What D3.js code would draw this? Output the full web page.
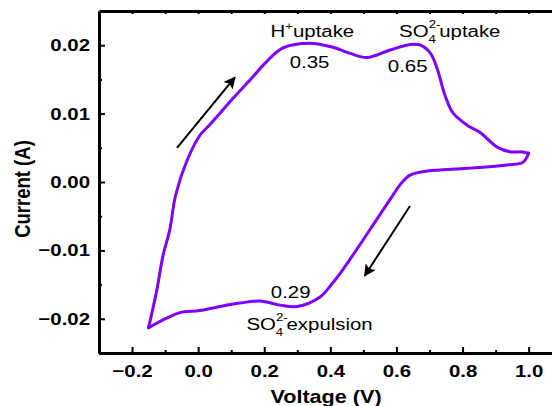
<!DOCTYPE html>
<html>
<head>
<meta charset="utf-8">
<script src="https://cdn.jsdelivr.net/npm/d3@7"></script>
<style>
  body { margin: 0; background: #fff; }
</style>
</head>
<body>
<script>
// values
// anodic sweep (-0.15 V -> 1.0 V)
const fwdV = [-0.15, -0.125, -0.107, -0.086, -0.068, -0.034, 0.005, 0.03, 0.056, 0.105, 0.157, 0.205, 0.257,
  0.338, 0.408, 0.46, 0.511, 0.581, 0.642, 0.673, 0.703, 0.723, 0.742, 0.752, 0.771, 0.814, 0.854,
  0.905, 0.945, 0.981, 1.0];
const fwdI = [-0.0213, -0.0158, -0.0109, -0.0070, -0.0019, 0.0031, 0.0068, 0.0081, 0.0095, 0.0122, 0.0149, 0.0175, 0.0196,
  0.0203, 0.0197, 0.0188, 0.0182, 0.0193, 0.0201, 0.0200, 0.0188, 0.0166, 0.0134, 0.0120, 0.0101, 0.0083, 0.0072,
  0.0051, 0.0044, 0.0044, 0.0042];
// cathodic sweep (1.0 V -> -0.15 V)
const revV = [1.0, 0.983, 0.935, 0.814, 0.693, 0.641, 0.611, 0.587, 0.551, 0.511, 0.475, 0.438, 0.408,
  0.369, 0.299, 0.248, 0.187, 0.126, 0.066, 0.005, -0.055, -0.095, -0.15];
const revI = [0.0042, 0.0029, 0.0025, 0.0020, 0.0016, 0.0010, -0.0004, -0.0021, -0.0047, -0.0076, -0.0102, -0.0128, -0.0147,
  -0.0168, -0.0182, -0.0180, -0.0174, -0.0177, -0.0182, -0.0188, -0.0191, -0.0199, -0.0213];

const xTicks = [-0.2, 0.0, 0.2, 0.4, 0.6, 0.8, 1.0];
const xMinor = [-0.1, 0.1, 0.3, 0.5, 0.7, 0.9];
const yTicks = [-0.02, -0.01, 0.0, 0.01, 0.02];
const yMinor = [-0.015, -0.005, 0.005, 0.015];

// sweep direction arrows [V0, I0, V1, I1]
const arrows = [[-0.064, 0.0050, 0.111, 0.0153], [0.641, -0.0035, 0.504, -0.0137]];

// annotations: [V, I, kind, text]
const notes = [
  [0.219, 0.02124, "H", "uptake"],
  [0.608, 0.0212, "SO4", "uptake"],
  [0.146, -0.02164, "SO4", "expulsion"],
  [0.277, 0.01667, "plain", "0.35"],
  [0.574, 0.01608, "plain", "0.65"],
  [0.22, -0.01696, "plain", "0.29"]
];

const canvWidth = 552, canvHeight = 406;
const sx = 1.2; // the picture's text is stretched sideways

const svg = d3.select("body").append("svg")
    .attr("width", canvWidth)
    .attr("height", canvHeight);

const plotLeft = 99, plotTop = 11, plotBottom = 353;
const xScale = d3.scaleLinear().domain([-0.3, 1.1]).range([plotLeft, plotLeft + 1.4 * 330.5]);
const yScale = d3.scaleLinear().domain([-0.025, 0.025]).range([plotBottom, plotTop]);
const plotRight = xScale(1.1);

const font = "'Liberation Sans', Arial, sans-serif";

// curve
const line = d3.line()
    .x(d => xScale(d[0]))
    .y(d => yScale(d[1]))
    .curve(d3.curveCatmullRom.alpha(0.5));

[[fwdV, fwdI], [revV, revI]].forEach(([vs, is]) => {
  svg.append("path")
      .datum(vs.map((v, i) => [v, is[i]]))
      .attr("d", line)
      .attr("fill", "none")
      .attr("stroke", "#7f00ff")
      .attr("stroke-width", 3)
      .attr("stroke-linejoin", "round")
      .attr("stroke-linecap", "round");
});

// axes
function styleAxis(g) {
  g.select(".domain").attr("stroke-width", 3).attr("stroke", "#000");
  g.selectAll(".tick line").attr("stroke-width", 2).attr("stroke", "#000");
}

const xAxis = svg.append("g")
    .attr("transform", "translate(0," + plotBottom + ")")
    .call(d3.axisBottom(xScale).tickValues(xTicks).tickFormat(d3.format(".1f"))
      .tickSizeInner(-6).tickSizeOuter(0).tickPadding(12));
xAxis.call(styleAxis);
xAxis.selectAll("text")
    .attr("font-family", font).attr("font-size", 17).attr("font-weight", "bold")
    .attr("transform", "scale(" + sx + ",1)");

svg.append("g")
    .attr("transform", "translate(0," + plotBottom + ")")
    .call(d3.axisBottom(xScale).tickValues(xMinor).tickFormat("").tickSizeInner(-3).tickSizeOuter(0))
    .call(styleAxis);

svg.append("g")
    .attr("transform", "translate(0," + plotTop + ")")
    .call(d3.axisTop(xScale).tickValues(xTicks.concat(xMinor)).tickFormat("").tickSizeInner(-3).tickSizeOuter(0))
    .call(styleAxis);

const yAxis = svg.append("g")
    .attr("transform", "translate(" + plotLeft + ",0)")
    .call(d3.axisLeft(yScale).tickValues(yTicks).tickFormat(d3.format(".2f"))
      .tickSizeInner(-6).tickSizeOuter(0).tickPadding(9));
yAxis.call(styleAxis);
yAxis.selectAll("text")
    .attr("font-family", font).attr("font-size", 17).attr("font-weight", "bold")
    .attr("x", -9 / sx)
    .attr("transform", "scale(" + sx + ",1)");

svg.append("g")
    .attr("transform", "translate(" + plotLeft + ",0)")
    .call(d3.axisLeft(yScale).tickValues(yMinor).tickFormat("").tickSizeInner(-3).tickSizeOuter(0))
    .call(styleAxis);

svg.append("g")
    .attr("transform", "translate(" + plotRight + ",0)")
    .call(d3.axisRight(yScale).tickValues(yTicks.concat(yMinor)).tickFormat("").tickSizeInner(-3).tickSizeOuter(0))
    .call(styleAxis);

// axis titles
svg.append("text")
    .attr("transform", "translate(326,403) scale(" + sx + ",1)")
    .attr("font-family", font).attr("font-size", 18).attr("font-weight", "bold")
    .attr("text-anchor", "middle")
    .text("Voltage (V)");

svg.append("text")
    .attr("transform", "translate(30,189) rotate(-90) scale(1," + sx + ")")
    .attr("font-family", font).attr("font-size", 18.5).attr("font-weight", "bold")
    .attr("text-anchor", "middle")
    .text("Current (A)");

// arrows
svg.append("defs").append("marker")
    .attr("id", "head")
    .attr("viewBox", "0 0 10 10")
    .attr("refX", 9).attr("refY", 5)
    .attr("markerWidth", 7).attr("markerHeight", 6)
    .attr("markerUnits", "strokeWidth")
    .attr("orient", "auto")
  .append("path")
    .attr("d", "M0,0 L10,5 L0,10 L2,5 Z")
    .attr("fill", "#000");

svg.selectAll(".arrow")
  .data(arrows)
  .enter()
  .append("line")
    .attr("class", "arrow")
    .attr("x1", d => xScale(d[0]))
    .attr("y1", d => yScale(d[1]))
    .attr("x2", d => xScale(d[2]))
    .attr("y2", d => yScale(d[3]))
    .attr("stroke", "#000")
    .attr("stroke-width", 2)
    .attr("marker-end", "url(#head)");

// annotations
notes.forEach(([v, c, kind, txt]) => {
  const t = svg.append("text")
      .attr("transform", "translate(" + xScale(v) + "," + yScale(c) + ") scale(" + sx + ",1)")
      .attr("font-family", font).attr("font-size", 17).attr("fill", "#000");
  if (kind === "H") {
    t.append("tspan").text("H");
    t.append("tspan").attr("font-size", 11).attr("dy", -7).text("+");
    t.append("tspan").attr("dy", 7).text(txt);
  } else if (kind === "SO4") {
    t.append("tspan").text("SO");
    t.append("tspan").attr("font-size", 11).attr("dy", 6).text("4");
    t.append("tspan").attr("font-size", 11).attr("dx", -6).attr("dy", -15).text("2-");
    t.append("tspan").attr("dx", -1).attr("dy", 9).text(txt);
  } else {
    t.text(txt);
  }
});
</script>
</body>
</html>
